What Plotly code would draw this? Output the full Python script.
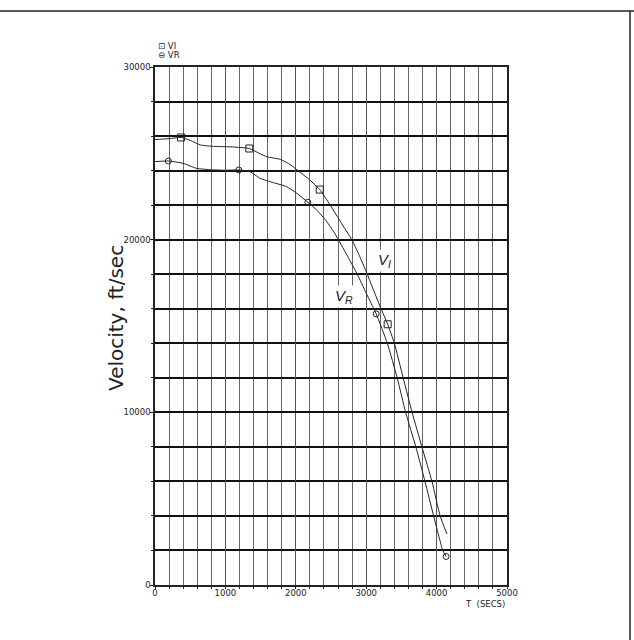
import plotly.graph_objects as go

# ---- data ----
t_vi = [0, 200, 370, 500, 650, 850, 1100, 1340, 1480, 1590, 1780, 1900, 2000, 2200, 2340,
        2490, 2640, 2796, 2900, 3010, 3190, 3305, 3400, 3525, 3652, 3791, 3934, 4050, 4147]
v_vi = [25800, 25850, 25920, 25750, 25480, 25400, 25370, 25280, 25000, 24800, 24650, 24400, 24100, 23450, 22900,
        22000, 21000, 20000, 19100, 18050, 16200, 15100, 14000, 12000, 10000, 8000, 6000, 4000, 2950]

t_vr = [0, 190, 400, 590, 800, 1000, 1190, 1350, 1490, 1680, 1870, 2015, 2171,
        2300, 2420, 2540, 2700, 2867, 3000, 3142, 3300, 3440, 3560, 3705, 3835, 3958, 4088, 4135]
v_vr = [24520, 24555, 24420, 24130, 24050, 24020, 24035, 23940, 23555, 23305, 23070, 22685, 22165,
        21700, 21150, 20450, 19300, 18050, 16900, 15700, 14000, 12000, 10000, 8000, 6000, 4000, 2000, 1650]

t_vi_mark = [370, 1340, 2340, 3305]
v_vi_mark = [25920, 25280, 22900, 15100]
t_vr_mark = [190, 1190, 2171, 3142, 4135]
v_vr_mark = [24555, 24035, 22165, 15700, 1650]

x_ticks = [0, 1000, 2000, 3000, 4000, 5000]
y_ticks = [0, 10000, 20000, 30000]

fig = go.Figure()
fig.add_trace(go.Scatter(x=t_vi, y=v_vi, mode="lines", line=dict(color="#222", width=1, shape="spline", smoothing=0.5),
                         showlegend=False, hoverinfo="skip"))
fig.add_trace(go.Scatter(x=t_vr, y=v_vr, mode="lines", line=dict(color="#222", width=1, shape="spline", smoothing=0.5),
                         showlegend=False, hoverinfo="skip"))
fig.add_trace(go.Scatter(x=t_vi_mark, y=v_vi_mark, mode="markers", name="VI",
                         marker=dict(symbol="square-open", size=7, color="#222", line=dict(width=1)), showlegend=False))
fig.add_trace(go.Scatter(x=t_vr_mark, y=v_vr_mark, mode="markers", name="VR",
                         marker=dict(symbol="circle-open", size=6, color="#222", line=dict(width=1)), showlegend=False))

tickfont = dict(family="DejaVu Sans", size=8.5, color="#222")
fig.update_xaxes(range=[0, 5000], tickvals=x_ticks, ticktext=[str(v) for v in x_ticks], tickfont=tickfont,
                 showgrid=True, gridcolor="#555", gridwidth=1, showline=True, linecolor="#222", linewidth=1.5,
                 mirror=True, ticks="outside", ticklen=2, tickcolor="#222", zeroline=False, ticklabelstandoff=-3,
                 minor=dict(dtick=200, showgrid=True, gridcolor="#666", gridwidth=1, ticks="outside", ticklen=2, tickcolor="#222"))
fig.update_yaxes(range=[0, 30000], tickvals=y_ticks, ticktext=[str(v) for v in y_ticks], tickfont=tickfont,
                 showgrid=True, gridcolor="#111", gridwidth=1.5, showline=True, linecolor="#222", linewidth=1.5,
                 mirror=True, ticks="outside", ticklen=3, tickcolor="#222", zeroline=False, ticklabelstandoff=-2,
                 minor=dict(dtick=2000, showgrid=True, gridcolor="#111", gridwidth=1.5, ticks="outside", ticklen=2, tickcolor="#222"))

W, H = 634, 640
L, R, T, B = 155, 127, 67, 55
pw, ph = W - L - R, H - T - B

def px(xp):
    return (xp - L) / pw

def py(yp):
    return (H - B - yp) / ph

annotations = [
    dict(text="Velocity, ft/sec", x=px(116), y=py(318), xref="paper", yref="paper", showarrow=False,
         xanchor="center", yanchor="middle", textangle=-90,
         font=dict(family="DejaVu Sans", size=20, color="#222")),
    dict(text="T  (SECS)", x=px(463), y=py(604), xref="paper", yref="paper", showarrow=False,
         xanchor="left", yanchor="middle", font=dict(family="DejaVu Sans", size=8.5, color="#222")),
    dict(text="⊡ VI", x=px(156), y=py(46), xref="paper", yref="paper", showarrow=False,
         xanchor="left", yanchor="middle", font=dict(family="DejaVu Sans", size=8.5, color="#222")),
    dict(text="⊖ VR", x=px(156), y=py(55), xref="paper", yref="paper", showarrow=False,
         xanchor="left", yanchor="middle", font=dict(family="DejaVu Sans", size=8.5, color="#222")),
    dict(text="<i>V<sub>I</sub></i>", x=px(384), y=py(260), xref="paper", yref="paper", showarrow=False,
         xanchor="center", yanchor="middle", font=dict(family="Liberation Sans", size=15, color="#222"), bgcolor="white"),
    dict(text="<i>V<sub>R</sub></i>", x=px(344), y=py(296), xref="paper", yref="paper", showarrow=False,
         xanchor="center", yanchor="middle", font=dict(family="Liberation Sans", size=15, color="#222"), bgcolor="white"),
]

shapes = [
    dict(type="line", xref="paper", yref="paper", x0=px(0), x1=px(634), y0=py(11), y1=py(11),
         line=dict(color="#222", width=1.5)),
    dict(type="line", xref="paper", yref="paper", x0=px(630), x1=px(630), y0=py(11), y1=py(640),
         line=dict(color="#222", width=1.5)),
]

fig.update_layout(width=W, height=H, margin=dict(l=L, r=R, t=T, b=B), paper_bgcolor="white",
                  plot_bgcolor="white", annotations=annotations, shapes=shapes, showlegend=False)

fig.write_html("out.html")
